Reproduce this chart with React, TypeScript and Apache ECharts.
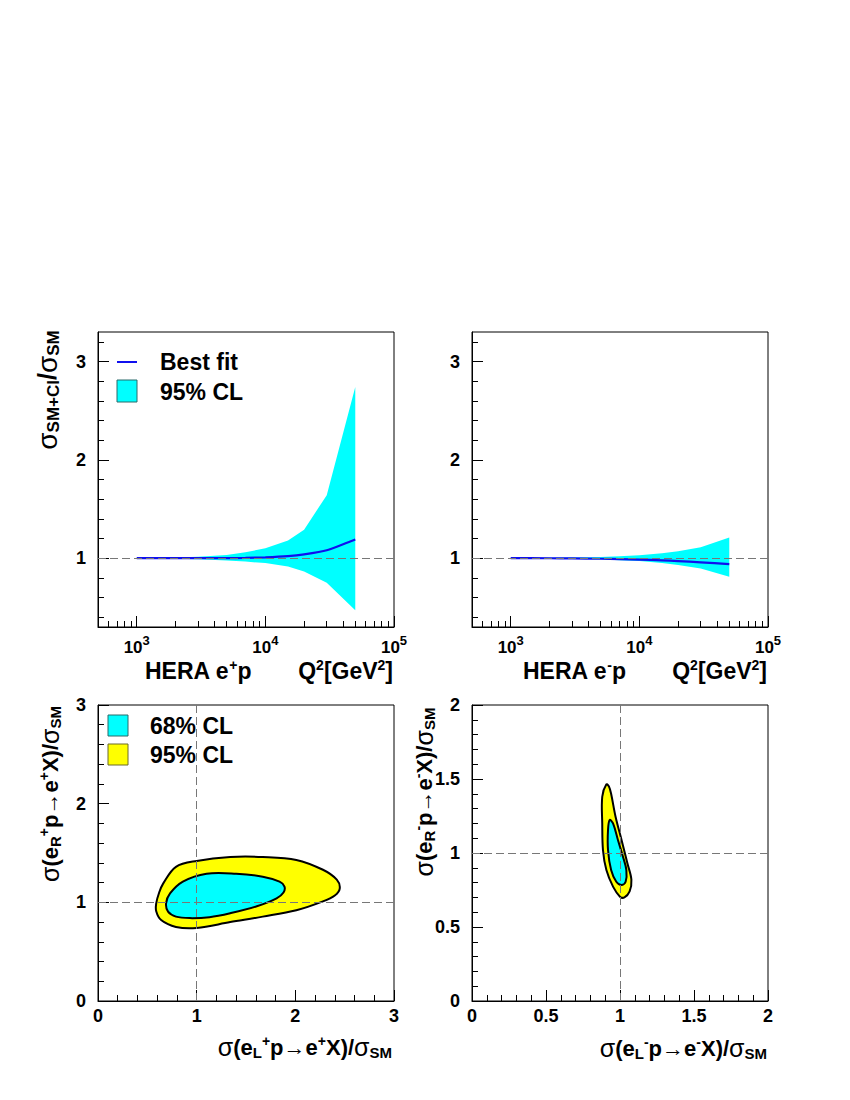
import React, { useEffect, useRef } from 'react';
import * as echarts from 'echarts';

const FONT = "'Liberation Sans', Arial, Helvetica, sans-serif";

// Top panels: Q^2 grid points [GeV^2]
const q2 = [1000, 2000, 3000, 5000, 7000, 10000, 15000, 20000, 30000, 50000];
// HERA e+p
const posFit = [1.0, 1.0, 1.0, 1.0, 1.003, 1.008, 1.02, 1.038, 1.08, 1.19];
const posUpper = [1.0, 1.008, 1.015, 1.033, 1.06, 1.1, 1.18, 1.29, 1.64, 2.74];
const posLower = [1.0, 0.995, 0.99, 0.977, 0.965, 0.95, 0.915, 0.865, 0.75, 0.47];
// HERA e-p
const negFit = [1.0, 0.999, 0.997, 0.994, 0.99, 0.985, 0.978, 0.97, 0.958, 0.94];
const negUpper = [1.0, 1.003, 1.006, 1.012, 1.02, 1.03, 1.05, 1.07, 1.11, 1.21];
const negLower = [1.0, 0.997, 0.994, 0.988, 0.98, 0.97, 0.95, 0.93, 0.895, 0.81];

// Top panel ticks
const logMajor = [1000, 10000, 100000];
const logMinor = [600, 700, 800, 900, 2000, 3000, 4000, 5000, 6000, 7000, 8000, 9000, 20000, 30000, 40000, 50000, 60000, 70000, 80000, 90000];
const ratioMajor = [1, 2, 3];
const ratioMinor = [0.4, 0.6, 0.8, 1.2, 1.4, 1.6, 1.8, 2.2, 2.4, 2.6, 2.8, 3.2];

// Bottom-left contours (e+ p): x = sigma(eL+)/SM, y = sigma(eR+)/SM
const ep95X = [0.59, 0.62, 0.66, 0.79, 1.0, 1.34, 1.67, 2.01, 2.28, 2.42, 2.45, 2.4, 2.28, 2.01, 1.67, 1.34, 1.0, 0.79, 0.64, 0.59];
const ep95Y = [0.99, 1.1, 1.19, 1.36, 1.42, 1.46, 1.46, 1.43, 1.33, 1.23, 1.14, 1.07, 1.01, 0.92, 0.855, 0.8, 0.74, 0.75, 0.82, 0.91];
const ep68X = [0.69, 0.73, 0.86, 1.1, 1.4, 1.67, 1.84, 1.89, 1.88, 1.81, 1.61, 1.34, 1.13, 0.93, 0.79, 0.71];
const ep68Y = [0.99, 1.09, 1.21, 1.29, 1.29, 1.26, 1.21, 1.16, 1.1, 1.04, 0.96, 0.89, 0.85, 0.84, 0.855, 0.905];

// Bottom-right contours (e- p)
const em95X = [0.908, 0.88, 0.88, 0.885, 0.908, 0.953, 1.0, 1.03, 1.065, 1.077, 1.05, 1.01, 0.97, 0.94, 0.925];
const em95Y = [1.464, 1.38, 1.2, 1.02, 0.885, 0.773, 0.705, 0.7, 0.74, 0.82, 0.93, 1.09, 1.245, 1.4, 1.45];
const em68X = [0.93, 0.919, 0.919, 0.94, 0.975, 1.01, 1.038, 1.043, 1.02, 0.986, 0.953];
const em68Y = [1.223, 1.155, 1.02, 0.885, 0.806, 0.784, 0.806, 0.885, 0.975, 1.088, 1.2];

const BLACK = '#000';
const CYAN = '#00ffff';
const YELLOW = '#ffff00';
const FIT_BLUE = '#1010ee';
const DASH = { type: [8, 4] as any, color: '#777', width: 1 };

const tickFont = { fontFamily: FONT, fontWeight: 'bold' as const, fontSize: 18, color: BLACK };

function bandRender(upper: number[], lower: number[]) {
  return (params: any, api: any) => {
    if (params.dataIndex !== 0) return null;
    const pts: number[][] = [];
    for (let i = 0; i < q2.length; i++) pts.push(api.coord([q2[i], upper[i]]));
    for (let i = q2.length - 1; i >= 0; i--) pts.push(api.coord([q2[i], lower[i]]));
    return { type: 'polygon', shape: { points: pts }, style: { fill: CYAN, stroke: 'none' } };
  };
}

function contourRender(xs: number[], ys: number[], fill: string) {
  return (params: any, api: any) => {
    if (params.dataIndex !== 0) return null;
    const pts = xs.map((x, i) => api.coord([x, ys[i]]));
    return {
      type: 'polygon',
      shape: { points: pts, smooth: 0.35 },
      style: { fill, stroke: BLACK, lineWidth: 2 },
    };
  };
}

function logAxes(grid: number) {
  return [
    {
      type: 'log', logBase: 10, gridIndex: grid, min: 500, max: 100000, position: 'bottom',
      axisLine: { show: true, onZero: false, lineStyle: { color: BLACK, width: 1 } },
      axisTick: { show: true, inside: true, length: 11, customValues: logMajor, lineStyle: { color: BLACK } },
      axisLabel: {
        show: true, customValues: logMajor, margin: 7,
        formatter: (v: number) => `{b|10}{s|${Math.round(Math.log10(v))}}`,
        rich: {
          b: { ...tickFont, fontSize: 17, lineHeight: 22, verticalAlign: 'bottom' },
          s: { ...tickFont, fontSize: 13, lineHeight: 12, verticalAlign: 'top' },
        },
      },
      splitLine: { show: false }, minorTick: { show: false },
    },
    {
      type: 'log', logBase: 10, gridIndex: grid, min: 500, max: 100000, position: 'bottom',
      axisLine: { show: false, onZero: false },
      axisTick: { show: true, inside: true, length: 6, customValues: logMinor, lineStyle: { color: BLACK } },
      axisLabel: { show: false },
      splitLine: { show: false },
    },
  ];
}

function ratioAxes(grid: number) {
  return [
    {
      type: 'value', gridIndex: grid, min: 0.3, max: 3.3, position: 'left',
      axisLine: { show: true, onZero: false, lineStyle: { color: BLACK, width: 1 } },
      axisTick: { show: true, inside: true, length: 11, customValues: ratioMajor, lineStyle: { color: BLACK } },
      axisLabel: { show: true, customValues: ratioMajor, margin: 12, ...tickFont },
      splitLine: { show: false },
    },
    {
      type: 'value', gridIndex: grid, min: 0.3, max: 3.3, position: 'left',
      axisLine: { show: false, onZero: false },
      axisTick: { show: true, inside: true, length: 6, customValues: ratioMinor, lineStyle: { color: BLACK } },
      axisLabel: { show: false },
      splitLine: { show: false },
    },
  ];
}

function linAxis(grid: number, max: number, interval: number, dim: 'x' | 'y') {
  return {
    type: 'value', gridIndex: grid, min: 0, max, interval,
    position: dim === 'x' ? 'bottom' : 'left',
    axisLine: { show: true, onZero: false, lineStyle: { color: BLACK, width: 1 } },
    axisTick: { show: true, inside: true, length: 11, lineStyle: { color: BLACK } },
    minorTick: { show: true, splitNumber: 5, length: 6, lineStyle: { color: BLACK } },
    axisLabel: {
      show: true, margin: dim === 'x' ? 6 : 12, ...tickFont, lineHeight: 18,
      formatter: (v: number) => String(v),
    },
    splitLine: { show: false }, minorSplitLine: { show: false },
  };
}

function richSet(size: number) {
  const sub = Math.round(size * 0.66);
  const sup = Math.round(size * 0.62);
  return {
    n: { fontFamily: FONT, fontWeight: 'bold', fontSize: size, lineHeight: size + 4, fill: BLACK },
    g: { fontFamily: FONT, fontWeight: 'normal', fontSize: size + 3, lineHeight: size + 4, fill: BLACK },
    a: { fontFamily: FONT, fontWeight: 'normal', fontSize: size, lineHeight: size + 4, fill: BLACK },
    sb: { fontFamily: FONT, fontWeight: 'bold', fontSize: sub, lineHeight: Math.round(size * 0.5), verticalAlign: 'bottom', fill: BLACK },
    sp: { fontFamily: FONT, fontWeight: 'bold', fontSize: sup, lineHeight: Math.round(size * 0.5), verticalAlign: 'top', fill: BLACK },
  };
}

function label(x: number, y: number, text: string, align: string, size: number, rotation = 0) {
  return {
    type: 'text', x, y, rotation, z: 100,
    style: { text, rich: richSet(size), align, verticalAlign: 'middle', font: `bold ${size}px ${FONT}` },
  };
}

export default function App() {
  const ref = useRef<HTMLDivElement>(null);
  useEffect(() => {
    if (!ref.current) return;
    const chart = echarts.init(ref.current, null, { renderer: 'svg' });
    const gridStyle = { show: true, borderColor: BLACK, borderWidth: 1, backgroundColor: 'transparent', containLabel: false };
    const option: any = {
      animation: false,
      backgroundColor: '#fff',
      grid: [
        { ...gridStyle, left: 98, top: 332, width: 296, height: 295 },
        { ...gridStyle, left: 472, top: 332, width: 296, height: 295 },
        { ...gridStyle, left: 98, top: 705, width: 296, height: 296 },
        { ...gridStyle, left: 472, top: 705, width: 296, height: 296 },
      ],
      xAxis: [...logAxes(0), ...logAxes(1), linAxis(2, 3, 1, 'x'), linAxis(3, 2, 0.5, 'x')],
      yAxis: [...ratioAxes(0), ...ratioAxes(1), linAxis(2, 3, 1, 'y'), linAxis(3, 2, 0.5, 'y')],
      series: [
        {
          type: 'custom', name: '95% CL (e+p)', xAxisIndex: 0, yAxisIndex: 0,
          renderItem: bandRender(posUpper, posLower),
          data: q2.map((q, i) => [q, posUpper[i], posLower[i]]), encode: { x: 0, y: [1, 2] }, z: 1,
        },
        {
          type: 'line', name: 'Best fit (e+p)', xAxisIndex: 0, yAxisIndex: 0, z: 3,
          data: q2.map((q, i) => [q, posFit[i]]), showSymbol: false, symbol: 'none', smooth: 0.2,
          lineStyle: { color: FIT_BLUE, width: 2.2 },
          markLine: { silent: true, symbol: ['none', 'none'], label: { show: false }, lineStyle: DASH, data: [{ yAxis: 1 }] },
        },
        {
          type: 'custom', name: '95% CL (e-p)', xAxisIndex: 2, yAxisIndex: 2,
          renderItem: bandRender(negUpper, negLower),
          data: q2.map((q, i) => [q, negUpper[i], negLower[i]]), encode: { x: 0, y: [1, 2] }, z: 1,
        },
        {
          type: 'line', name: 'Best fit (e-p)', xAxisIndex: 2, yAxisIndex: 2, z: 3,
          data: q2.map((q, i) => [q, negFit[i]]), showSymbol: false, symbol: 'none', smooth: 0.2,
          lineStyle: { color: FIT_BLUE, width: 2.2 },
          markLine: { silent: true, symbol: ['none', 'none'], label: { show: false }, lineStyle: DASH, data: [{ yAxis: 1 }] },
        },
        {
          type: 'custom', name: '95% CL e+', xAxisIndex: 4, yAxisIndex: 4, z: 1,
          renderItem: contourRender(ep95X, ep95Y, YELLOW), data: ep95X.map((x, i) => [x, ep95Y[i]]),
        },
        {
          type: 'custom', name: '68% CL e+', xAxisIndex: 4, yAxisIndex: 4, z: 2,
          renderItem: contourRender(ep68X, ep68Y, CYAN), data: ep68X.map((x, i) => [x, ep68Y[i]]),
        },
        {
          type: 'line', name: 'ref e+', xAxisIndex: 4, yAxisIndex: 4, z: 5, data: [[1, 1]], symbol: 'none', showSymbol: false,
          lineStyle: { width: 0 },
          markLine: { silent: true, symbol: ['none', 'none'], label: { show: false }, lineStyle: DASH, data: [{ yAxis: 1 }, { xAxis: 1 }] },
        },
        {
          type: 'custom', name: '95% CL e-', xAxisIndex: 5, yAxisIndex: 5, z: 1,
          renderItem: contourRender(em95X, em95Y, YELLOW), data: em95X.map((x, i) => [x, em95Y[i]]),
        },
        {
          type: 'custom', name: '68% CL e-', xAxisIndex: 5, yAxisIndex: 5, z: 2,
          renderItem: contourRender(em68X, em68Y, CYAN), data: em68X.map((x, i) => [x, em68Y[i]]),
        },
        {
          type: 'line', name: 'ref e-', xAxisIndex: 5, yAxisIndex: 5, z: 5, data: [[1, 1]], symbol: 'none', showSymbol: false,
          lineStyle: { width: 0 },
          markLine: { silent: true, symbol: ['none', 'none'], label: { show: false }, lineStyle: DASH, data: [{ yAxis: 1 }, { xAxis: 1 }] },
        },
      ],
      graphic: [
        // top-left legend
        { type: 'line', shape: { x1: 117, y1: 362, x2: 137, y2: 362 }, style: { stroke: FIT_BLUE, lineWidth: 2 }, z: 100 },
        { type: 'rect', shape: { x: 117, y: 380, width: 20, height: 22 }, style: { fill: CYAN, stroke: '#2a6a6a', lineWidth: 1 }, z: 100 },
        label(160, 362, '{n|Best fit}', 'left', 23),
        label(160, 392, '{n|95% CL}', 'left', 23),
        // bottom-left legend
        { type: 'rect', shape: { x: 108, y: 715, width: 20, height: 21 }, style: { fill: CYAN, stroke: '#2a6a6a', lineWidth: 1 }, z: 100 },
        { type: 'rect', shape: { x: 108, y: 744, width: 20, height: 21 }, style: { fill: YELLOW, stroke: '#6a6a2a', lineWidth: 1 }, z: 100 },
        label(150, 726, '{n|68% CL}', 'left', 23),
        label(150, 755, '{n|95% CL}', 'left', 23),
        // top x titles
        label(145, 671, '{n|HERA e}{sp|+}{n|p}', 'left', 23),
        label(393, 671, '{n|Q}{sp|2}{n|[GeV}{sp|2}{n|]}', 'right', 23),
        label(523, 671, '{n|HERA e}{sp|-}{n|p}', 'left', 23),
        label(767, 671, '{n|Q}{sp|2}{n|[GeV}{sp|2}{n|]}', 'right', 23),
        // top-left y title
        label(47, 390, '{g|σ}{sb|SM+CI}{n|/}{g|σ}{sb|SM}', 'center', 25, Math.PI / 2),
        // bottom x titles
        label(392, 1047, '{g|σ}{n|(e}{sb|L}{sp|+}{n|p}{a|→}{n|e}{sp|+}{n|X)/}{g|σ}{sb|SM}', 'right', 22),
        label(767, 1048, '{g|σ}{n|(e}{sb|L}{sp|-}{n|p}{a|→}{n|e}{sp|-}{n|X)/}{g|σ}{sb|SM}', 'right', 22),
        // bottom y titles
        label(50, 794, '{g|σ}{n|(e}{sb|R}{sp|+}{n|p}{a|→}{n|e}{sp|+}{n|X)/}{g|σ}{sb|SM}', 'center', 22, Math.PI / 2),
        label(424, 792, '{g|σ}{n|(e}{sb|R}{sp|-}{n|p}{a|→}{n|e}{sp|-}{n|X)/}{g|σ}{sb|SM}', 'center', 22, Math.PI / 2),
      ],
    };
    chart.setOption(option);
    return () => chart.dispose();
  }, []);
  return <div ref={ref} style={{ position: 'absolute', left: 0, top: 0, width: 850, height: 1100 }} />;
}
